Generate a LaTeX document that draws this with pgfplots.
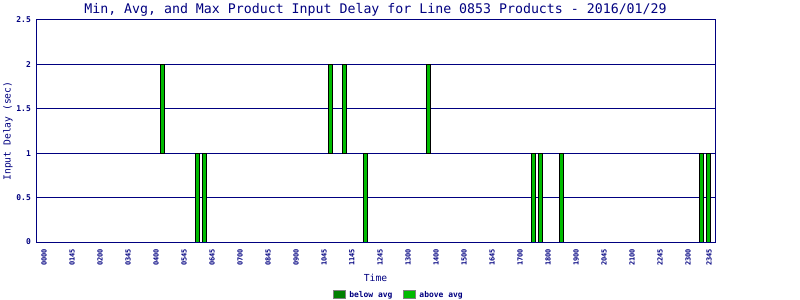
\documentclass[border=0pt]{standalone}
\usepackage{pgfplots}
\pgfplotsset{compat=1.18}
\usepackage{fontspec}
\setmainfont{DejaVu Sans Mono}
\definecolor{navy}{RGB}{0,0,128}
\definecolor{dkgreen}{RGB}{0,128,0}
\definecolor{ltgreen}{RGB}{0,187,0}
\begin{document}
\begin{tikzpicture}
\path[use as bounding box] (0,0) rectangle (800bp,300bp);
\begin{axis}[
  at={(36bp,58bp)}, anchor=south west, scale only axis,
  width=679bp, height=222bp,
  xmin=-1.14, xmax=95.86, ymin=0, ymax=2.5,
  ybar stacked, bar width=0.571,
  ytick={0,0.5,1,1.5,2,2.5}, yticklabels={0,0.5,1,1.5,2,2.5},
  xtick={0,4,8,12,16,20,24,28,32,36,40,44,48,52,56,60,64,68,72,76,80,84,88,92,95},
  xticklabels={0000,0145,0200,0345,0400,0545,0645,0700,0845,0900,1045,1145,1245,1300,1400,1500,1645,1700,1800,1900,2045,2100,2245,2300,2345},
  major tick length=0pt,
  axis line style={navy, line width=1bp},
  ymajorgrids, grid style={navy, line width=1bp},
  yticklabel style={font=\fontsize{8}{8}\selectfont\bfseries, text=navy, inner sep=0pt, xshift=-5bp},
  xticklabel style={font=\fontsize{7}{7}\selectfont\bfseries, text=navy, rotate=90, anchor=east, inner xsep=7bp, inner ysep=0pt},
  title={Min, Avg, and Max Product Input Delay for Line 0853 Products - 2016/01/29},
  title style={font=\fontsize{13.3}{14}\selectfont, text=navy, at={(axis description cs:0.5,1)}, anchor=base, yshift=-6pt, yshift=6.7bp, inner sep=0pt},
  ylabel={Input Delay (sec)},
  ylabel style={font=\fontsize{9.7}{10}\selectfont, text=navy, at={(axis description cs:-0.0412,0.5)}, anchor=center},
  xlabel={Time},
  xlabel style={font=\fontsize{9.7}{10}\selectfont, text=navy, at={(axis description cs:0.5,-0.162)}, anchor=center},
  legend columns=2,
  legend style={at={(axis description cs:0.5353,-0.2387)}, anchor=center, draw=none, fill=none,
    font=\fontsize{8}{8}\selectfont\bfseries, text=navy, inner sep=0pt,
    /tikz/every even column/.append style={column sep=8bp},
    nodes={inner xsep=3bp, inner ysep=0pt}},
  legend image code/.code={\draw[#1] (0bp,-4bp) rectangle (12bp,4bp);},
]
\addlegendimage{fill=dkgreen, draw=gray, line width=1bp}
\addlegendentry{below avg}
\addlegendimage{fill=ltgreen, draw=gray, line width=1bp}
\addlegendentry{above avg}
% invisible base (min)
\addplot[draw=none, fill=none, forget plot] coordinates {
 (17,1) (22,0) (23,0) (41,1) (43,1) (46,0) (55,1) (70,0) (71,0) (74,0) (94,0) (95,0)};
% above average portion (max - avg)
\addplot[fill=ltgreen, draw=black, line width=1bp, forget plot] coordinates {
 (17,1) (22,1) (23,1) (41,1) (43,1) (46,1) (55,1) (70,1) (71,1) (74,1) (94,1) (95,1)};
\end{axis}
\end{tikzpicture}
\end{document}
